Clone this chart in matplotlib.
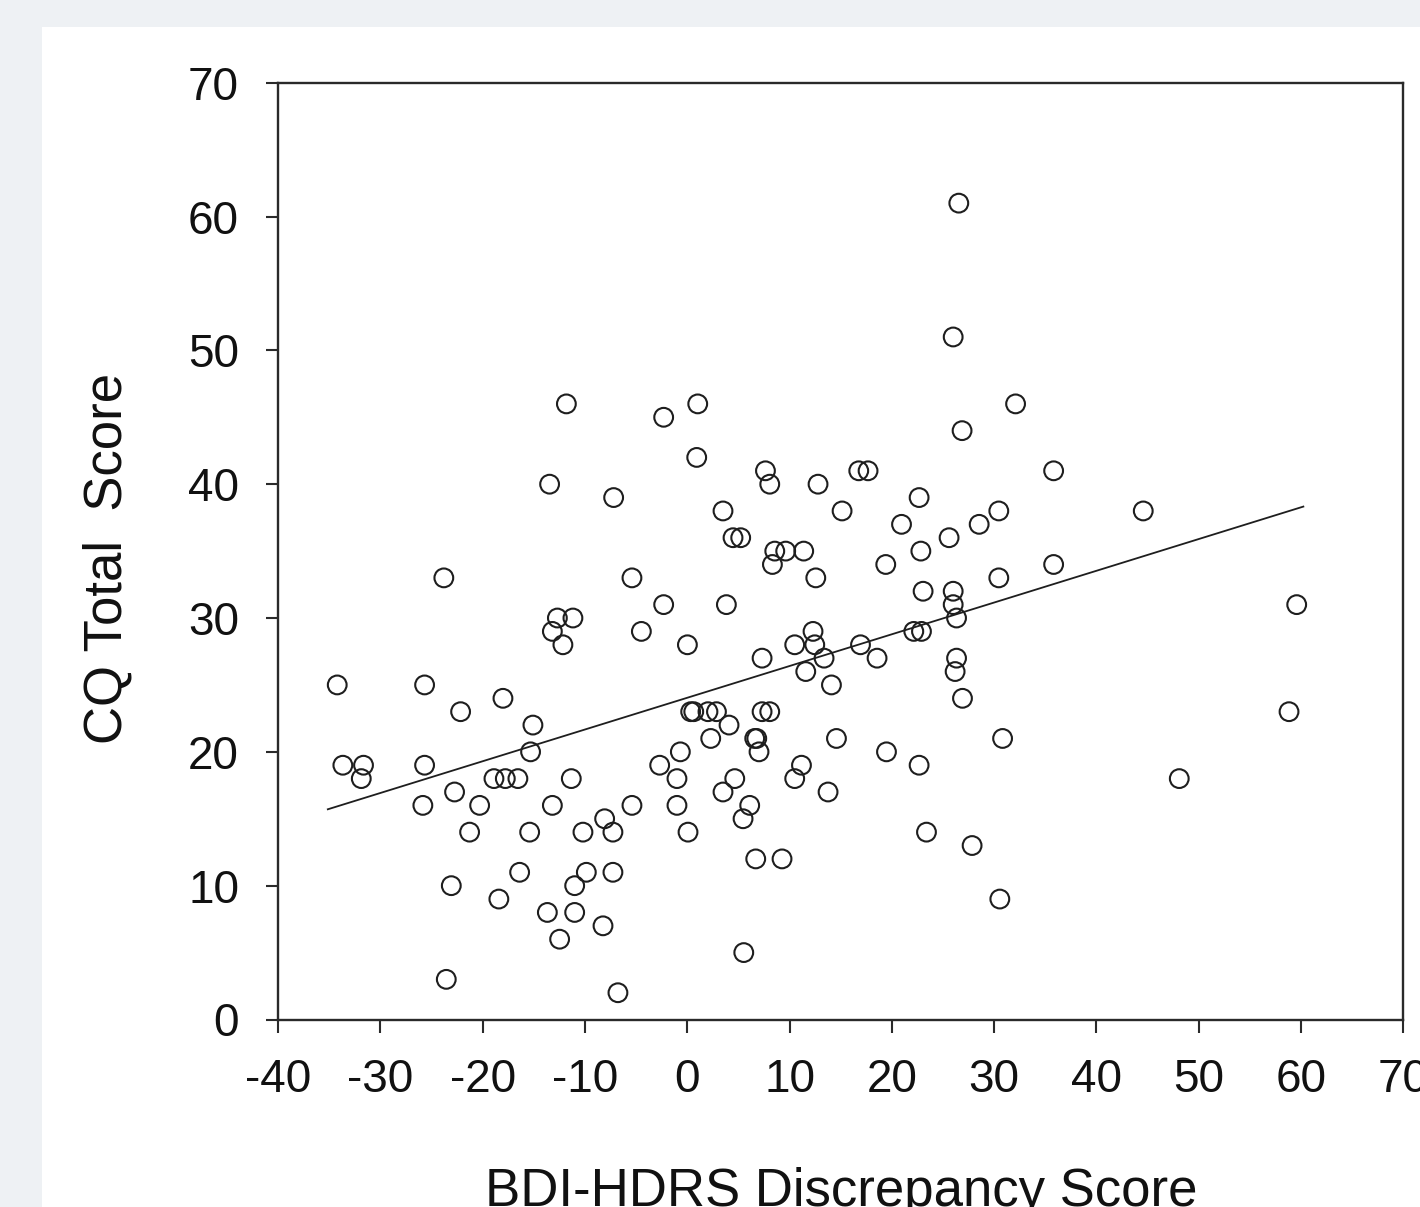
import matplotlib
matplotlib.use("Agg")
import matplotlib.pyplot as plt
import numpy as np
from matplotlib.patches import Rectangle

# ---- data ----
bdi_hdrs = [
    26.55, 26.0,
    -11.81, 1.03, 32.1,
    -2.30,
    26.87,
    0.93,
    7.65, 16.77, 17.68, 35.82,
    -13.45, 8.07, 12.79,
    -7.19, 22.67,
    3.50, 15.14, 30.46, 44.58,
    20.95, 28.54,
    4.48, 5.23, 25.60,
    8.56, 9.63, 11.39, 22.84,
    8.33, 19.41, 35.82,
    -23.79, -5.40, 12.57, 30.46,
    23.06, 26.0,
    -2.30, 3.83, 26.0, 59.58,
    -12.69, -11.17, 26.33,
    -13.18, -4.48, 12.30, 22.15, 22.90,
    -12.15, 0.02, 10.51, 12.47, 16.94,
    7.32, 13.38, 18.56, 26.33,
    11.59, 26.19,
    -34.21, -25.67, 14.10,
    -18.01, 26.91,
    -22.15, 0.34, 0.64, 2.03, 2.86, 7.32, 8.07, 58.83,
    -15.08, 4.09,
    2.30, 6.60, 6.80, 14.59, 30.83,
    -15.31, -0.67, 7.02, 19.48,
    -33.66, -31.64, -25.67, -2.69, 11.17, 22.67,
    -31.86, -18.89, -17.78, -16.55, -11.33, -1.0, 4.65, 10.51, 48.10,
    -22.74, 3.50, 13.77,
    -25.84, -20.29, -13.18, -5.40, -1.0, 6.11,
    -8.07, 5.46,
    -21.27, -15.40, -10.19, -7.26, 0.08, 23.39,
    27.85,
    6.70, 9.27,
    -16.38, -9.86, -7.26,
    -23.06, -11.0,
    -18.41, 30.56,
    -13.67, -11.0,
    -8.23,
    -12.47,
    5.53,
    -23.55,
    -6.77,
]
cq_total = [
    61, 51,
    46, 46, 46,
    45,
    44,
    42,
    41, 41, 41, 41,
    40, 40, 40,
    39, 39,
    38, 38, 38, 38,
    37, 37,
    36, 36, 36,
    35, 35, 35, 35,
    34, 34, 34,
    33, 33, 33, 33,
    32, 32,
    31, 31, 31, 31,
    30, 30, 30,
    29, 29, 29, 29, 29,
    28, 28, 28, 28, 28,
    27, 27, 27, 27,
    26, 26,
    25, 25, 25,
    24, 24,
    23, 23, 23, 23, 23, 23, 23, 23,
    22, 22,
    21, 21, 21, 21, 21,
    20, 20, 20, 20,
    19, 19, 19, 19, 19, 19,
    18, 18, 18, 18, 18, 18, 18, 18, 18,
    17, 17, 17,
    16, 16, 16, 16, 16, 16,
    15, 15,
    14, 14, 14, 14, 14, 14,
    13,
    12, 12,
    11, 11, 11,
    10, 10,
    9, 9,
    8, 8,
    7,
    6,
    5,
    3,
    2,
]
fit_slope = 0.2372
fit_intercept = 24.04
fit_x_range = [-35.13, 60.23]

x_ticks = [-40, -30, -20, -10, 0, 10, 20, 30, 40, 50, 60, 70]
y_ticks = [0, 10, 20, 30, 40, 50, 60, 70]
x_label = "BDI-HDRS Discrepancy Score"
y_label = "CQ Total  Score"

# ---- figure ----
plt.rcParams['font.family'] = ['Liberation Sans', 'DejaVu Sans']
W, H = 1420, 1207
fig = plt.figure(figsize=(W / 100, H / 100), dpi=100, facecolor='#eef1f4')
fig.patches.append(Rectangle((42 / W, 0), 1 - 42 / W, 1 - 27 / H,
                             transform=fig.transFigure, facecolor='white',
                             edgecolor='none', zorder=-10))

ax = fig.add_axes([278 / W, 1 - 1019.5 / H, (1403.3 - 278) / W, (1019.5 - 82.7) / H])
ax.set_zorder(5)
ax.set_facecolor('white')

ax.scatter(bdi_hdrs, cq_total, s=13.5 ** 2, facecolors='none',
           edgecolors='#1e1e1e', linewidths=1.5, zorder=3, clip_on=False)

fx = np.array(fit_x_range)
ax.plot(fx, fit_intercept + fit_slope * fx, color='#1e1e1e', lw=1.3, zorder=2)

ax.set_xlim(x_ticks[0], x_ticks[-1])
ax.set_ylim(y_ticks[0], y_ticks[-1])
ax.set_xticks(x_ticks)
ax.set_yticks(y_ticks)
ax.set_xticklabels([str(t) for t in x_ticks])
ax.set_yticklabels([str(t) for t in y_ticks])

for sp in ax.spines.values():
    sp.set_linewidth(1.7)
    sp.set_color('#2a2a2a')

ax.tick_params(axis='both', direction='out', length=9, width=1.5,
               color='#2a2a2a', labelsize=33, labelcolor='#111111')
ax.tick_params(axis='x', pad=19)
ax.tick_params(axis='y', pad=19)

fig.text(108 / W, 1 - 558 / H, y_label, rotation=90, ha='center', va='center',
         fontsize=38, color='#111111', zorder=6)
fig.text(841 / W, 1 - 1206 / H, x_label, ha='center', va='baseline',
         fontsize=38, color='#111111', zorder=6)

fig.savefig('out.png', dpi=100, facecolor=fig.get_facecolor())
